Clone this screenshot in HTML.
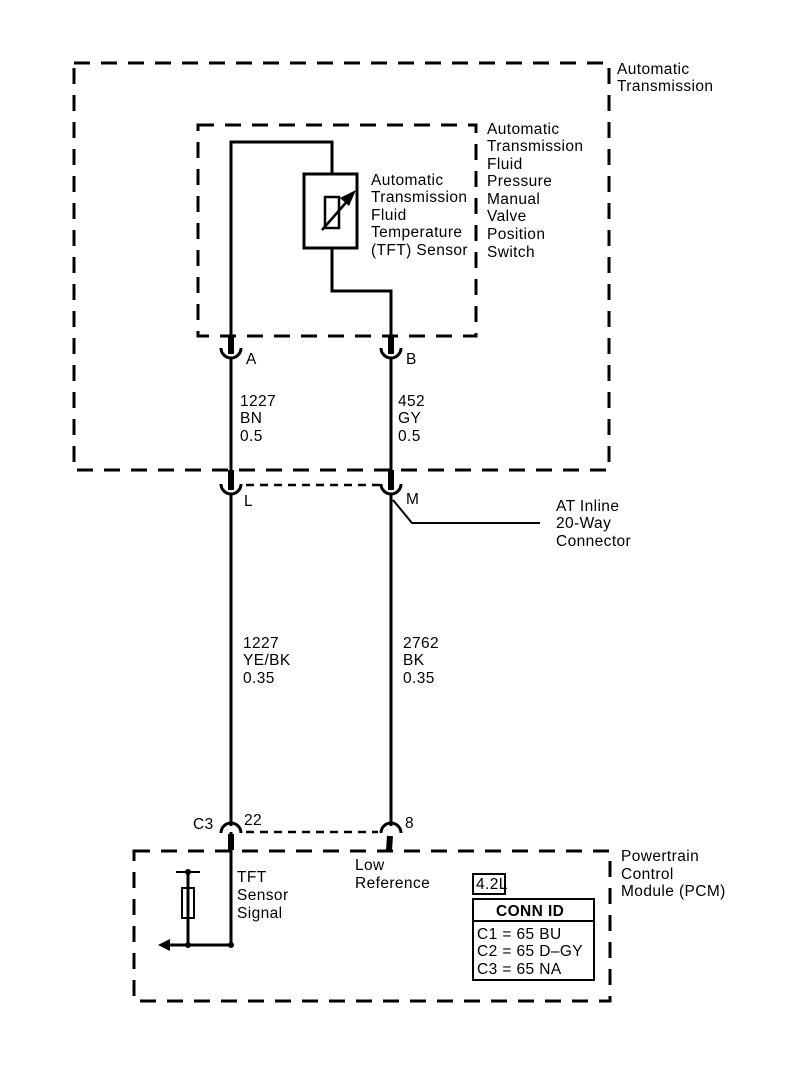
<!DOCTYPE html>
<html><head><style>
html,body{margin:0;padding:0;background:#fff;}
svg{display:block;}
text{font-family:"Liberation Sans",Arial,sans-serif;font-size:15.5px;letter-spacing:0.4px;fill:#000;}
</style></head><body>
<svg width="800" height="1088" viewBox="0 0 800 1088" xmlns="http://www.w3.org/2000/svg">
<g fill="none" stroke="#000" stroke-width="3" stroke-dasharray="16,11">
<rect x="74" y="63" width="535" height="407"/>
<rect x="198" y="125" width="278" height="211"/>
<rect x="134" y="851" width="476" height="150"/>
</g>
<g fill="none" stroke="#000" stroke-width="2.5" stroke-dasharray="8,6">
<line x1="246" y1="485" x2="380" y2="485"/>
<line x1="246" y1="832" x2="378" y2="832"/>
</g>
<g fill="none" stroke="#000" stroke-width="3">
<polyline points="231,340 231,142 332,142 332,175"/>
<polyline points="332,248 332,291 391,291 391,340"/>
<rect x="304" y="174" width="53" height="74"/>
<rect x="325" y="197" width="14" height="31" stroke-width="2.5"/>
<line x1="231" y1="358" x2="231" y2="480"/>
<line x1="391" y1="358" x2="391" y2="480"/>
<line x1="231" y1="494" x2="231" y2="826"/>
<line x1="391" y1="494" x2="391" y2="826"/>
<polyline points="393,500 412,523 540,523" stroke-width="2"/>
<path d="M221,348 A10,10 0 0 0 241,348"/>
<path d="M381,348 A10,10 0 0 0 401,348"/>
<path d="M221,484 A10,10 0 0 0 241,484"/>
<path d="M381,484 A10,10 0 0 0 401,484"/>
<path d="M221,833 A10,10 0 0 1 241,833"/>
<path d="M381,833 A10,10 0 0 1 401,833"/>
<line x1="231" y1="832" x2="231" y2="945"/>
<line x1="188" y1="872" x2="188" y2="945"/>
<line x1="176" y1="872" x2="200" y2="872" stroke-width="2"/>
<rect x="182" y="888" width="12" height="30" stroke-width="2"/>
<line x1="168" y1="945" x2="231" y2="945"/>
<rect x="473" y="874" width="32" height="20" stroke-width="2"/>
<rect x="473" y="899" width="121" height="81" stroke-width="2"/>
<line x1="473" y1="921" x2="594" y2="921" stroke-width="2"/>
</g>
<g stroke="#000" stroke-width="6">
<line x1="231" y1="336" x2="231" y2="354"/>
<line x1="391" y1="336" x2="391" y2="354"/>
<line x1="231" y1="470" x2="231" y2="490"/>
<line x1="391" y1="470" x2="391" y2="490"/>
<line x1="231" y1="834" x2="231" y2="850"/>
<line x1="390" y1="836" x2="389" y2="850"/>
</g>
<line x1="322" y1="230" x2="350" y2="198" stroke="#000" stroke-width="2.5"/>
<polygon points="356,190 340,198 349,206" fill="#000"/>
<polygon points="158,945 170,939 170,951" fill="#000"/>
<circle cx="188" cy="872" r="3"/><circle cx="188" cy="945" r="3"/><circle cx="231" cy="945" r="3"/>
<text x="617" y="74">Automatic</text>
<text x="617" y="91">Transmission</text>
<text x="487" y="134">Automatic</text>
<text x="487" y="151">Transmission</text>
<text x="487" y="169">Fluid</text>
<text x="487" y="186">Pressure</text>
<text x="487" y="204">Manual</text>
<text x="487" y="221">Valve</text>
<text x="487" y="239">Position</text>
<text x="487" y="257">Switch</text>
<text x="371" y="185">Automatic</text>
<text x="371" y="202">Transmission</text>
<text x="371" y="220">Fluid</text>
<text x="371" y="237">Temperature</text>
<text x="371" y="255">(TFT) Sensor</text>
<text x="246" y="364">A</text>
<text x="406" y="364">B</text>
<text x="240" y="406">1227</text><text x="240" y="423">BN</text><text x="240" y="441">0.5</text>
<text x="398" y="406">452</text><text x="398" y="423">GY</text><text x="398" y="441">0.5</text>
<text x="244" y="506">L</text>
<text x="406" y="504">M</text>
<text x="556" y="511">AT Inline</text>
<text x="556" y="528">20-Way</text>
<text x="556" y="546">Connector</text>
<text x="243" y="648">1227</text><text x="243" y="665">YE/BK</text><text x="243" y="683">0.35</text>
<text x="403" y="648">2762</text><text x="403" y="665">BK</text><text x="403" y="683">0.35</text>
<text x="193" y="829">C3</text>
<text x="244" y="825">22</text>
<text x="405" y="828">8</text>
<text x="237" y="882">TFT</text><text x="237" y="900">Sensor</text><text x="237" y="918">Signal</text>
<text x="355" y="870">Low</text><text x="355" y="888">Reference</text>
<text x="621" y="861">Powertrain</text><text x="621" y="879">Control</text><text x="621" y="896">Module (PCM)</text>
<text x="476" y="889">4.2L</text>
<text x="496" y="916" style="font-weight:bold">CONN ID</text>
<text x="477" y="939">C1 = 65 BU</text>
<text x="477" y="956">C2 = 65 D–GY</text>
<text x="477" y="974">C3 = 65 NA</text>
</svg>
</body></html>
